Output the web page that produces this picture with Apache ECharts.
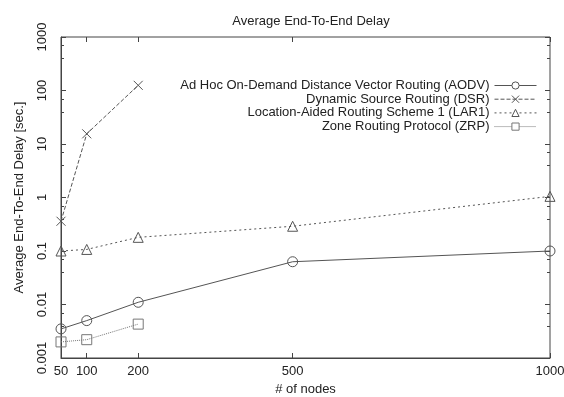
<!DOCTYPE html>
<html><head><meta charset="utf-8">
<script src="https://cdn.jsdelivr.net/npm/echarts@6/dist/echarts.min.js"></script>
<style>html,body{margin:0;padding:0;background:#fff}#c{width:564px;height:397px}</style>
</head><body><div id="c"></div>
<script>
const nodes = [50, 100, 200, 500, 1000];
const xTickLabels = ['50', '100', '200', '500', '1000'];
const yTickLabels = ['0.001', '0.01', '0.1', '1', '10', '100', '1000'];
const seriesNames = [
  'Ad Hoc On-Demand Distance Vector Routing (AODV)',
  'Dynamic Source Routing (DSR)',
  'Location-Aided Routing Scheme 1 (LAR1)',
  'Zone Routing Protocol (ZRP)'
];
const aodv = [0.0035, 0.005, 0.011, 0.063, 0.1];
const dsr = [0.36, 15.5, 125];
const lar1 = [0.1, 0.107, 0.18, 0.29, 1.05];
const zrp = [0.002, 0.0022, 0.0043];

const font = 'Liberation Sans, Arial, Helvetica, sans-serif';
const gray = '#555';
const crossPath = 'path://M0,0L10,10M10,0L0,10';
const styles = [
  { symbol: 'circle', dash: 'solid', color: gray, size: 10 },
  { symbol: crossPath, dash: [4, 2], color: gray, size: 9 },
  { symbol: 'triangle', dash: [2, 3], color: gray, size: 10 },
  { symbol: 'rect', dash: [1, 1], color: '#777', size: 10 }
];
const values = [aodv, dsr, lar1, zrp];

function pairs(vals) { return vals.map((v, i) => [nodes[i], v]); }

const chart = echarts.init(document.getElementById('c'), null, { renderer: 'canvas' });
chart.setOption({
  backgroundColor: '#fff',
  animation: false,
  textStyle: { fontFamily: font },
  title: {
    text: 'Average End-To-End Delay', left: 306, top: 10, textAlign: 'center',
    textStyle: { fontFamily: font, fontSize: 13, fontWeight: 'normal', color: '#222' }
  },
  legend: {
    orient: 'vertical', right: 22, top: 74, align: 'right',
    itemWidth: 42, itemHeight: 9, itemGap: 0.7,
    textStyle: { fontFamily: font, fontSize: 13, lineHeight: 12, color: '#222' },
    itemStyle: { borderWidth: 1 },
    lineStyle: { width: 1 },
    data: seriesNames.map((n, i) => ({
      name: n,
      itemStyle: { color: '#fff', borderColor: styles[i].color, borderWidth: 1 },
      lineStyle: { color: styles[i].color, width: 1, type: styles[i].dash }
    }))
  },
  grid: { left: 61, right: 14, top: 37, bottom: 39, show: true, borderColor: '#444', borderWidth: 1,
    containLabel: false, outerBoundsMode: 'none' },
  xAxis: [{
    type: 'value', min: 50, max: 1000,
    name: '# of nodes', nameLocation: 'middle', nameGap: 25, nameMoveOverlap: false,
    nameTextStyle: { fontFamily: font, fontSize: 13, color: '#222' },
    axisLine: { show: true, lineStyle: { color: '#444' } },
    axisTick: { show: true, inside: true, length: 5, customValues: nodes, lineStyle: { color: '#444' } },
    axisLabel: { customValues: nodes, fontFamily: font, fontSize: 13, color: '#222', margin: 7,
      formatter: v => xTickLabels[nodes.indexOf(v)] },
    splitLine: { show: false }
  }, {
    type: 'value', min: 50, max: 1000, position: 'top',
    axisLine: { show: false },
    axisTick: { show: true, inside: true, length: 5, customValues: nodes, lineStyle: { color: '#444' } },
    axisLabel: { show: false }, splitLine: { show: false }
  }],
  yAxis: [{
    type: 'log', logBase: 10, min: 0.001, max: 1000,
    name: 'Average End-To-End Delay [sec.]', nameLocation: 'middle', nameGap: 35, nameMoveOverlap: false,
    nameTextStyle: { fontFamily: font, fontSize: 13, color: '#222' },
    axisLine: { show: true, lineStyle: { color: '#444' } },
    axisTick: { show: true, inside: true, length: 5, lineStyle: { color: '#444' } },
    minorTick: { show: true, splitNumber: 3, length: 3, lineStyle: { color: '#444' } },
    axisLabel: { rotate: 90, fontFamily: font, fontSize: 13, color: '#222', margin: 12,
      formatter: v => yTickLabels[Math.round(Math.log10(v)) + 3] },
    splitLine: { show: false }, minorSplitLine: { show: false }
  }, {
    type: 'log', logBase: 10, min: 0.001, max: 1000, position: 'right',
    axisLine: { show: false },
    axisTick: { show: true, inside: true, length: 5, lineStyle: { color: '#444' } },
    minorTick: { show: true, splitNumber: 3, length: 3, lineStyle: { color: '#444' } },
    axisLabel: { show: false }, splitLine: { show: false }, minorSplitLine: { show: false }
  }],
  series: seriesNames.map((n, i) => ({
    name: n, type: 'line', data: pairs(values[i]),
    symbol: styles[i].symbol, symbolSize: styles[i].size, showSymbol: true,
    lineStyle: { color: styles[i].color, width: 1, type: styles[i].dash },
    itemStyle: { color: 'none', borderColor: styles[i].color, borderWidth: 1 },
    emphasis: { disabled: true }, animation: false
  }))
});
</script></body></html>
